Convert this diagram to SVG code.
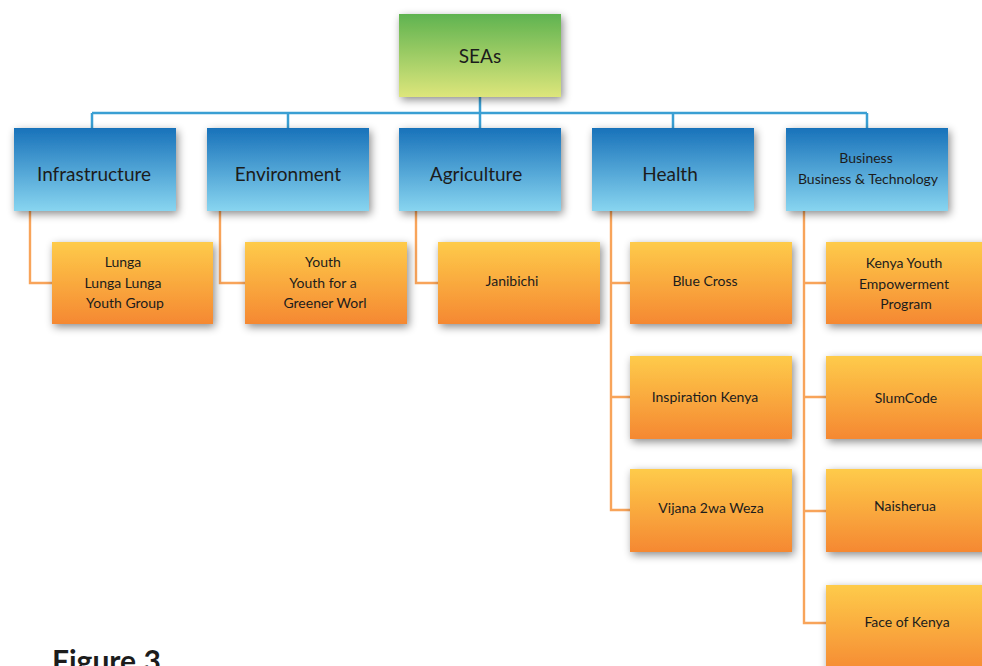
<svg xmlns="http://www.w3.org/2000/svg" width="982" height="666" viewBox="0 0 982 666">
<defs>
<linearGradient id="gGreen" x1="0" y1="0" x2="0" y2="1"><stop offset="0" stop-color="#5fb350"/><stop offset="1" stop-color="#dde67b"/></linearGradient>
<linearGradient id="gBlue" x1="0" y1="0" x2="0" y2="1"><stop offset="0" stop-color="#1872ba"/><stop offset="1" stop-color="#88d5f0"/></linearGradient>
<linearGradient id="gOrange" x1="0" y1="0" x2="0" y2="1"><stop offset="0" stop-color="#fecb4a"/><stop offset="1" stop-color="#f58832"/></linearGradient>
<filter id="sh" x="-20%" y="-20%" width="140%" height="150%"><feDropShadow dx="2" dy="3" stdDeviation="4" flood-color="#000" flood-opacity="0.45"/></filter>
</defs>
<style>
text{font-family:Lato,"Open Sans","Liberation Sans",sans-serif;fill:#1c1c1c;text-anchor:middle;dominant-baseline:central}
.big{font-size:19px}
.sm{font-size:14px}
.green{fill:url(#gGreen);filter:url(#sh)}
.blue{fill:url(#gBlue);filter:url(#sh)}
.orange{fill:url(#gOrange);filter:url(#sh)}
.cb{stroke:#3a9fd3;stroke-width:2.5;fill:none}
.co{stroke:#f8a45a;stroke-width:2.4;fill:none}
.fig{font-size:30px;font-weight:bold;text-anchor:start;dominant-baseline:auto}
</style>
<rect width="982" height="666" fill="#fff"/>
<g id="connectors">
<path class="cb" d="M480 97V113M92 113H867M92 113V128M288 113V128M480 113V128M673 113V128M867 113V128"/>
<path class="co" d="M30 211V283H52"/>
<path class="co" d="M220 211V283H245"/>
<path class="co" d="M416 211V283H438"/>
<path class="co" d="M611 211V510H630M611 283H630M611 397H630"/>
<path class="co" d="M804 211V623H826M804 283H826M804 397H826M804 511H826"/>
</g>
<g id="seas"><rect class="green" x="399" y="14" width="162" height="83"/><text class="big" x="480" y="55">SEAs</text></g>
<g id="infrastructure"><rect class="blue" x="14" y="128" width="162" height="83"/><text class="big" x="94" y="173">Infrastructure</text></g>
<g id="environment"><rect class="blue" x="207" y="128" width="162" height="83"/><text class="big" x="288" y="173">Environment</text></g>
<g id="agriculture"><rect class="blue" x="399" y="128" width="162" height="83"/><text class="big" x="476" y="173">Agriculture</text></g>
<g id="health"><rect class="blue" x="592" y="128" width="162" height="83"/><text class="big" x="670" y="173">Health</text></g>
<g id="business"><rect class="blue" x="786" y="128" width="162" height="83"/><text class="sm" x="866" y="157">Business</text><text class="sm" x="868" y="178">Business &amp; Technology</text></g>
<g id="lunga"><rect class="orange" x="52" y="242" width="161" height="82"/><text class="sm" x="123" y="261">Lunga</text><text class="sm" x="123" y="282">Lunga Lunga</text><text class="sm" x="125" y="302">Youth Group</text></g>
<g id="youth"><rect class="orange" x="245" y="242" width="162" height="82"/><text class="sm" x="323" y="261">Youth</text><text class="sm" x="323" y="282">Youth for a</text><text class="sm" x="325" y="302">Greener Worl</text></g>
<g id="janibichi"><rect class="orange" x="438" y="242" width="162" height="82"/><text class="sm" x="512" y="280">Janibichi</text></g>
<g id="bluecross"><rect class="orange" x="630" y="242" width="162" height="82"/><text class="sm" x="705" y="280">Blue Cross</text></g>
<g id="inspiration"><rect class="orange" x="630" y="356" width="162" height="83"/><text class="sm" x="705" y="396">Inspiration Kenya</text></g>
<g id="vijana"><rect class="orange" x="630" y="469" width="162" height="83"/><text class="sm" x="711" y="507">Vijana 2wa Weza</text></g>
<g id="kenyayouth"><rect class="orange" x="826" y="242" width="162" height="82"/><text class="sm" x="904" y="262">Kenya Youth</text><text class="sm" x="904" y="283">Empowerment</text><text class="sm" x="906" y="303">Program</text></g>
<g id="slumcode"><rect class="orange" x="826" y="356" width="162" height="83"/><text class="sm" x="906" y="397">SlumCode</text></g>
<g id="naisherua"><rect class="orange" x="826" y="469" width="162" height="83"/><text class="sm" x="905" y="505">Naisherua</text></g>
<g id="faceofkenya"><rect class="orange" x="826" y="585" width="162" height="90"/><text class="sm" x="907" y="621">Face of Kenya</text></g>
<text class="fig" x="52" y="672">Figure 3</text>
</svg>
